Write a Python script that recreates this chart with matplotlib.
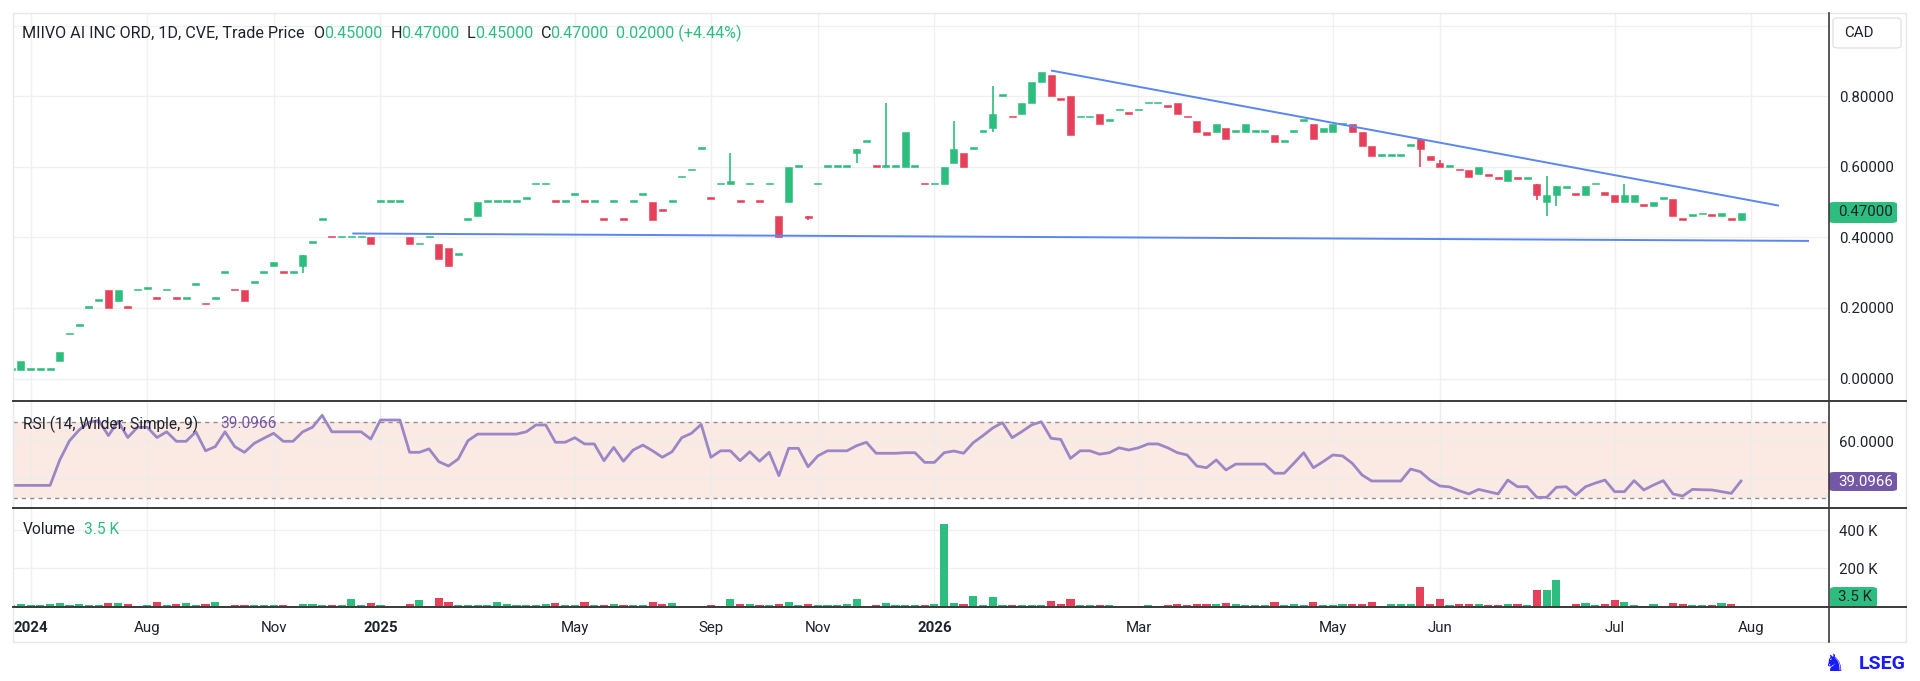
import matplotlib
matplotlib.use('Agg')
import matplotlib.pyplot as plt
from matplotlib.patches import FancyBboxPatch, Rectangle
from matplotlib.lines import Line2D

plt.rcParams['font.family'] = ['Roboto', 'DejaVu Sans']

# ---------------- data ----------------
opens = [.025, .025, .025, .025, .025, .05, .125, .15, .20, .22,
         .25, .22, .205, .25, .255, .23, .25, .23, .225, .265,
         .215, .225, .30, .255, .25, .27, .30, .32, .305, .30,
         .32, .385, .45, .405, .40, .40, .40, .40, .50, .50,
         .50, .40, .38, .40, .38, .37, .35, .45, .46, .50,
         .50, .50, .50, .51, .55, .55, .505, .50, .52, .505,
         .50, .455, .50, .455, .50, .52, .50, .48, .50, .57,
         .59, .65, .515, .55, .55, .505, .55, .505, .55, .46,
         .50, .60, .46, .55, .60, .60, .60, .64, .67, .605,
         .60, .60, .60, .60, .555, .55, .55, .61, .64, .65,
         .70, .71, .80, .745, .75, .78, .84, .86, .795, .80,
         .74, .74, .75, .73, .76, .755, .76, .78, .78, .775,
         .78, .745, .73, .70, .70, .71, .70, .70, .70, .70,
         .69, .67, .70, .73, .72, .70, .70, .72, .72, .70,
         .66, .63, .63, .63, .66, .68, .63, .61, .60, .595,
         .59, .58, .58, .57, .56, .57, .565, .55, .50, .52,
         .54, .525, .52, .55, .53, .52, .50, .50, .495, .49,
         .51, .51, .455, .46, .465, .465, .46, .455, .45]
highs = [.025, .05, .025, .025, .025, .075, .125, .15, .20, .22,
         .25, .25, .205, .25, .255, .23, .25, .23, .225, .265,
         .215, .225, .30, .255, .25, .27, .30, .33, .305, .30,
         .35, .385, .45, .405, .40, .40, .40, .40, .50, .50,
         .50, .40, .38, .40, .38, .37, .35, .45, .50, .50,
         .50, .50, .50, .51, .55, .55, .505, .50, .52, .505,
         .50, .455, .50, .455, .50, .52, .50, .48, .50, .57,
         .59, .65, .515, .55, .64, .505, .55, .505, .55, .46,
         .60, .60, .46, .55, .60, .60, .60, .65, .67, .605,
         .78, .60, .70, .60, .555, .55, .60, .73, .64, .65,
         .70, .83, .80, .745, .78, .84, .87, .86, .795, .80,
         .74, .74, .75, .73, .76, .755, .76, .78, .78, .775,
         .78, .745, .73, .70, .72, .71, .70, .72, .70, .70,
         .69, .67, .70, .73, .72, .71, .72, .72, .72, .70,
         .66, .63, .63, .63, .66, .68, .63, .62, .60, .595,
         .59, .60, .58, .57, .59, .57, .565, .55, .575, .545,
         .54, .525, .545, .55, .53, .52, .55, .52, .495, .50,
         .51, .51, .455, .46, .465, .465, .47, .455, .47]
lows = [.025, .025, .025, .025, .025, .05, .125, .15, .20, .22,
        .20, .22, .20, .25, .255, .225, .25, .225, .225, .265,
        .21, .225, .30, .25, .22, .27, .30, .32, .30, .30,
        .30, .385, .45, .40, .40, .40, .40, .38, .50, .50,
        .50, .38, .38, .40, .34, .32, .35, .45, .46, .50,
        .50, .50, .50, .51, .55, .55, .50, .50, .52, .50,
        .50, .45, .50, .45, .50, .52, .45, .475, .50, .57,
        .59, .65, .51, .55, .55, .50, .55, .50, .55, .40,
        .50, .60, .45, .55, .60, .60, .60, .61, .67, .60,
        .60, .60, .60, .60, .55, .55, .55, .61, .60, .65,
        .70, .70, .80, .74, .75, .78, .84, .80, .79, .69,
        .74, .74, .72, .73, .76, .75, .76, .78, .78, .77,
        .75, .74, .70, .69, .70, .68, .70, .70, .70, .70,
        .67, .67, .70, .73, .68, .70, .70, .72, .70, .66,
        .63, .63, .63, .63, .66, .60, .62, .60, .60, .59,
        .57, .58, .575, .565, .56, .565, .565, .505, .46, .49,
        .54, .52, .52, .55, .52, .50, .50, .50, .49, .49,
        .51, .46, .45, .46, .465, .46, .46, .45, .45]
closes = [.025, .05, .025, .025, .025, .075, .125, .15, .20, .22,
          .20, .25, .20, .25, .255, .225, .25, .225, .225, .265,
          .21, .225, .30, .25, .22, .27, .30, .33, .30, .30,
          .35, .385, .45, .40, .40, .40, .40, .38, .50, .50,
          .50, .38, .38, .40, .34, .32, .35, .45, .50, .50,
          .50, .50, .50, .51, .55, .55, .50, .50, .52, .50,
          .50, .45, .50, .45, .50, .52, .45, .475, .50, .57,
          .59, .65, .51, .55, .56, .50, .55, .50, .55, .40,
          .60, .60, .455, .55, .60, .60, .60, .65, .67, .60,
          .60, .60, .70, .60, .55, .55, .60, .65, .60, .65,
          .70, .75, .80, .74, .78, .84, .87, .80, .79, .69,
          .74, .74, .72, .73, .76, .75, .76, .78, .78, .77,
          .75, .74, .70, .69, .72, .68, .70, .72, .70, .70,
          .67, .67, .70, .73, .68, .71, .72, .72, .70, .66,
          .63, .63, .63, .63, .66, .65, .62, .60, .60, .59,
          .57, .60, .575, .565, .59, .565, .565, .52, .52, .545,
          .54, .52, .545, .55, .52, .50, .52, .52, .49, .50,
          .51, .46, .45, .46, .465, .46, .47, .45, .47]
volume_k = [10, 14, 8, 8, 12, 19, 9, 12, 8, 8,
            20, 20, 14, 4, 8, 26, 10, 12, 20, 10,
            12, 26, 4, 6, 8, 8, 8, 6, 6, 4,
            14, 14, 10, 6, 8, 42, 10, 20, 10, 4,
            4, 15, 37, 4, 47, 26, 6, 8, 10, 10,
            26, 14, 10, 10, 8, 12, 20, 10, 10, 26,
            10, 8, 14, 10, 10, 10, 26, 12, 20, 4,
            4, 4, 6, 4, 42, 14, 12, 8, 8, 14,
            26, 10, 14, 6, 6, 10, 14, 42, 4, 10,
            20, 10, 10, 6, 6, 14, 430, 19, 12, 57,
            8, 52, 10, 10, 10, 10, 10, 30, 12, 42,
            6, 10, 10, 10, 4, 4, 4, 8, 4, 10,
            12, 8, 14, 12, 12, 20, 14, 10, 10, 10,
            26, 10, 14, 10, 26, 10, 10, 12, 12, 12,
            26, 4, 12, 12, 12, 104, 14, 42, 10, 12,
            12, 14, 10, 6, 12, 14, 10, 87, 87, 139,
            2, 14, 20, 10, 14, 35, 26, 10, 4, 14,
            4, 20, 14, 10, 10, 10, 20, 12, 3.5]
rsi = [36.8, 36.8, 36.8, 36.8, 36.8, 50.2, 60.3, 66.0, 70.0, 71.0,
       63.0, 70.5, 62.0, 67.4, 67.4, 62.0, 65.0, 60.0, 60.0, 65.0,
       55.0, 57.2, 65.0, 57.2, 54.2, 58.9, 61.6, 64.2, 60.0, 60.0,
       65.0, 67.4, 73.7, 65.0, 65.0, 65.0, 65.0, 61.2, 71.2, 71.2,
       71.2, 54.2, 54.2, 56.0, 49.3, 47.0, 50.7, 60.3, 63.8, 63.8,
       63.8, 63.8, 63.8, 65.0, 68.6, 68.6, 59.5, 59.5, 61.9, 58.6,
       58.6, 49.8, 56.8, 49.5, 55.4, 58.0, 55.0, 51.6, 54.5, 61.9,
       64.2, 68.9, 51.6, 55.0, 55.0, 49.8, 54.5, 49.5, 54.2, 41.9,
       56.3, 56.3, 46.6, 52.3, 55.0, 55.0, 55.0, 57.7, 59.5, 53.7,
       53.7, 53.7, 54.0, 54.0, 48.9, 48.9, 54.0, 54.9, 53.7, 59.3,
       63.0, 67.0, 69.8, 61.9, 65.1, 68.6, 70.3, 61.6, 61.0, 51.0,
       55.0, 55.0, 53.2, 54.0, 56.6, 55.4, 56.6, 58.6, 58.6, 56.6,
       54.0, 52.8, 47.0, 46.1, 50.2, 44.9, 48.0, 48.0, 48.0, 48.0,
       43.2, 43.2, 48.5, 54.0, 46.1, 49.3, 52.8, 52.3, 48.4, 42.3,
       39.1, 39.1, 39.1, 39.1, 45.4, 44.0, 39.6, 36.5, 36.0, 34.0,
       32.3, 34.7, 33.5, 32.3, 39.6, 36.1, 36.1, 30.5, 30.5, 35.8,
       36.1, 31.7, 36.1, 38.0, 39.6, 33.5, 33.5, 39.3, 34.4, 37.0,
       39.3, 32.3, 31.2, 34.7, 34.5, 34.4, 33.5, 32.6, 39.0966]

tick_pos = [2, 14, 27, 38, 58, 72, 83, 95, 116, 136, 147, 165, 179]
tick_labels = ['2024', 'Aug', 'Nov', '2025', 'May', 'Sep', 'Nov', '2026',
               'Mar', 'May', 'Jun', 'Jul', 'Aug']
year_labels = ['2024', '2025', '2026']
price_ticks = [0.0, 0.2, 0.4, 0.6, 0.8, 1.0]
upper_trend_x = [107.0, 181.9]
upper_trend_y = [0.873, 0.490]
lower_trend_x = [35.1, 185.0]
lower_trend_y = [0.411, 0.390]
last_price = 0.47
last_rsi = 39.0966
last_vol_k = 3.5

# ---------------- style ----------------
W_PX, H_PX = 1920, 681
GREEN = '#2dbd7e'
RED = '#e6405a'
GRID = '#f0f0f0'
TXT = '#1e222d'
RSI_C = '#9b86c6'
TREND = '#5a86f0'

def fx(px):
    return px / W_PX

def fy(py):
    return 1 - py / H_PX

fig = plt.figure(figsize=(19.2, 6.81), dpi=100)
fig.patch.set_facecolor('white')

L_PX, R_PX = 12.7, 1829
TOP, SEP1, SEP2, BOT = 13, 401, 508, 607
left = fx(L_PX)
width = fx(R_PX) - fx(L_PX)
ax_p = fig.add_axes([left, fy(SEP1), width, (SEP1 - TOP) / H_PX])
ax_r = fig.add_axes([left, fy(SEP2), width, (SEP2 - SEP1) / H_PX], sharex=ax_p)
ax_v = fig.add_axes([left, fy(BOT), width, (BOT - SEP2) / H_PX], sharex=ax_p)

XL = ((L_PX - 11.2) / 9.718, (R_PX - 11.2) / 9.718)
n = len(closes)
idx = list(range(n))
up = [closes[i] >= opens[i] for i in idx]
cols = [GREEN if u else RED for u in up]

for ax in (ax_p, ax_r, ax_v):
    ax.set_facecolor('white')
    ax.set_xlim(*XL)
    ax.set_xticks(tick_pos)
    ax.grid(True, color=GRID, lw=1.0, zorder=0)
    ax.set_axisbelow(True)
    ax.yaxis.tick_right()
    ax.tick_params(axis='both', length=0, labelsize=10.8, colors=TXT)
    for s in ax.spines.values():
        s.set_visible(False)

# ---------------- price pane ----------------
ax_p.set_ylim((378.5 - SEP1) / 352.8, (378.5 - TOP) / 352.8)
ax_p.set_yticks(price_ticks)
ax_p.set_yticklabels(['%.5f' % v if v < 0.95 else '' for v in price_ticks])
ax_p.tick_params(axis='y', pad=7)
ax_p.tick_params(axis='x', labelbottom=False)

body_bottom = [min(opens[i], closes[i]) for i in idx]
body_h = [max(abs(closes[i] - opens[i]), 0.005) for i in idx]
for i in idx:
    if highs[i] > max(opens[i], closes[i]) or lows[i] < min(opens[i], closes[i]):
        ax_p.vlines(i, lows[i], highs[i], color=cols[i], lw=1.2, zorder=2)
ax_p.bar(idx, body_h, bottom=body_bottom, width=0.72, color=cols,
         edgecolor=cols, lw=0.4, zorder=3)

ax_p.plot(upper_trend_x, upper_trend_y, color=TREND, lw=1.4, zorder=4,
          solid_capstyle='butt')
ax_p.plot(lower_trend_x, lower_trend_y, color=TREND, lw=1.4, zorder=4,
          solid_capstyle='butt')

# ---------------- RSI pane ----------------
r_top = 70 - (SEP1 - 422.3) / 1.9
r_bot = 70 - (SEP2 - 422.3) / 1.9
ax_r.set_ylim(r_bot, r_top)
ax_r.axhspan(30, 70, color='#fbeae3', zorder=0.5, lw=0)
ax_r.axhline(70, color='#8f8f8f', lw=1.0, ls=(0, (3, 3)), zorder=1)
ax_r.axhline(30, color='#8f8f8f', lw=1.0, ls=(0, (3, 3)), zorder=1)
ax_r.set_yticks([40, 60])
ax_r.set_yticklabels(['', '60.0000'])
ax_r.tick_params(axis='y', pad=7)
ax_r.tick_params(axis='x', labelbottom=False)
ax_r.grid(True, color='#ececec', lw=1.0, zorder=0.8)
ax_r.plot(idx, rsi, color=RSI_C, lw=2.0, zorder=3, solid_joinstyle='round')

# ---------------- volume pane ----------------
vol = [v * 1000 for v in volume_k]
ax_v.set_ylim(-2000, (606.6 - SEP2) / 38.3 * 200000)
ax_v.bar(idx, vol, width=0.84, color=cols, lw=0, zorder=3)
ax_v.set_yticks([200000, 400000])
ax_v.set_yticklabels(['200 K', '400 K'])
ax_v.tick_params(axis='y', pad=7)
ax_v.set_xticklabels(tick_labels)
ax_v.tick_params(axis='x', pad=10)
for t in ax_v.get_xticklabels():
    if t.get_text() in year_labels:
        t.set_fontweight('bold')

# ---------------- frame lines ----------------
def hline(y, x0, x1, c, lw):
    fig.add_artist(Line2D([fx(x0), fx(x1)], [fy(y), fy(y)], color=c, lw=lw))

def vline(x, y0, y1, c, lw):
    fig.add_artist(Line2D([fx(x), fx(x)], [fy(y0), fy(y1)], color=c, lw=lw))

hline(TOP, L_PX, 1906, '#e8e8e8', 1.0)
hline(642, L_PX, 1906, '#e8e8e8', 1.0)
vline(L_PX, TOP, 642, '#e8e8e8', 1.0)
vline(1906, TOP, 642, '#e8e8e8', 1.0)
hline(SEP1, L_PX, 1906, '#3a3a3a', 1.4)
hline(SEP2, L_PX, 1906, '#3a3a3a', 1.4)
hline(BOT, L_PX, 1906, '#3a3a3a', 1.4)
vline(R_PX, TOP, 642, '#3a3a3a', 1.2)

# ---------------- labels / boxes ----------------
def box(x0, y0, x1, y1, fc, ec='none', rounded=False):
    if rounded:
        p = FancyBboxPatch((fx(x0), fy(y1)), fx(x1) - fx(x0), fy(y0) - fy(y1),
                           boxstyle='round,pad=0,rounding_size=0.003',
                           transform=fig.transFigure, fc=fc, ec=ec, lw=1.0)
    else:
        p = Rectangle((fx(x0), fy(y1)), fx(x1) - fx(x0), fy(y0) - fy(y1),
                      transform=fig.transFigure, fc=fc, ec=ec, lw=1.0)
    fig.add_artist(p)

box(1833, 18, 1901, 48, 'white', '#e3e3e3', rounded=True)
fig.text(fx(1844), fy(33), 'CAD', fontsize=10.8, color=TXT, va='center', ha='left')

box(1829, 202, 1897, 223, GREEN, rounded=True)
fig.text(fx(1838), fy(212.5), '%.5f' % last_price, fontsize=10.8, color=TXT,
         va='center', ha='left')

box(1829, 472, 1897, 491, '#7557a8', rounded=True)
fig.text(fx(1838), fy(481.5), '%.4f' % last_rsi, fontsize=10.8, color='white',
         va='center', ha='left')

box(1830, 587, 1877, 607, GREEN, rounded=True)
fig.text(fx(1838), fy(597), '%.1f K' % last_vol_k, fontsize=10.8, color=TXT,
         va='center', ha='left')

# header
hy = fy(33)
HFS = 11.6
fig.text(fx(22.4), hy, 'MIIVO AI INC ORD, 1D, CVE, Trade Price', fontsize=HFS,
         color=TXT, va='center', ha='left')
header_parts = [(313.5, 'O', TXT), (324.5, '%.5f' % opens[-1], GREEN),
                (390.6, 'H', TXT), (401.0, '%.5f' % highs[-1], GREEN),
                (466.5, 'L', TXT), (474.7, '%.5f' % lows[-1], GREEN),
                (540.8, 'C', TXT), (550.0, '%.5f' % closes[-1], GREEN),
                (616.0, '%.5f (+%.2f%%)' % (closes[-1] - closes[-2],
                                           (closes[-1] - closes[-2]) / closes[-2] * 100), GREEN)]
for x, s, c in header_parts:
    fig.text(fx(x), hy, s, fontsize=HFS, color=c, va='center', ha='left')

fig.text(fx(23), fy(424), 'RSI (14, Wilder, Simple, 9)', fontsize=11.2, color=TXT,
         va='center', ha='left')
fig.text(fx(220), fy(424), '%.4f' % last_rsi, fontsize=11.2, color='#7557a8',
         va='center', ha='left')
fig.text(fx(23), fy(530), 'Volume', fontsize=11.2, color=TXT, va='center', ha='left')
fig.text(fx(84.5), fy(530), '%.1f K' % last_vol_k, fontsize=11.2, color=GREEN,
         va='center', ha='left')

# LSEG logo
fig.text(fx(1834), fy(664), '\u265e', fontsize=17, color='#1a1aff',
         family='DejaVu Sans', va='center', ha='center')
fig.text(fx(1906), fy(664), 'LSEG', fontsize=14, color='#1a1aff', fontweight='bold',
         va='center', ha='right')

fig.savefig('out.png', dpi=100, facecolor='white')
